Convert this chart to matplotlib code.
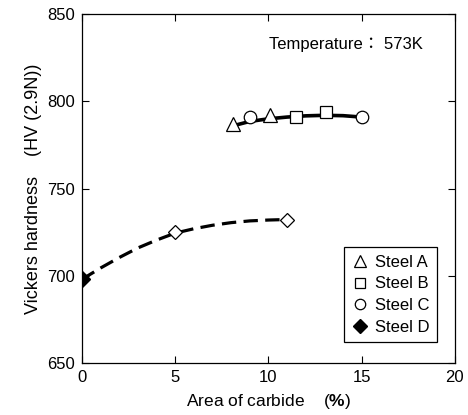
import matplotlib
matplotlib.use("Agg")
import matplotlib.pyplot as plt
from matplotlib.lines import Line2D

plt.rcParams['font.family'] = ['Liberation Sans', 'Noto Sans CJK JP', 'DejaVu Sans']
plt.rcParams['mathtext.fontset'] = 'custom'
plt.rcParams['mathtext.bf'] = 'Liberation Sans:bold'
plt.rcParams['mathtext.rm'] = 'Liberation Sans'

# measured points (area of carbide %, hardness HV)
steel_a_x = [8.1, 10.1]
steel_a_y = [787, 792]
steel_b_x = [11.5, 13.1]
steel_b_y = [791, 794]
steel_c_x = [9.0, 15.0]
steel_c_y = [791, 791]
steel_d_x = [0.0]
steel_d_y = [698]
steel_d_open_x = [5.0, 11.0]
steel_d_open_y = [725, 732]

# fitted curves
fit_abc_x = [8.1, 9, 10, 11, 12, 13, 14, 15]
fit_abc_y = [786, 788.5, 790, 791, 791.7, 792, 791.8, 791]
fit_d_x = [0, 1, 2, 3, 4, 5, 6, 7, 8, 9, 10, 11]
fit_d_y = [698, 704.5, 710.5, 716, 720.5, 724.5, 727, 729, 730.5, 731.5, 732, 732.3]

fig = plt.figure(figsize=(4.68, 4.15), dpi=100)
ax = fig.add_axes([0.175, 0.125, 0.797, 0.841])

ax.plot(fit_abc_x, fit_abc_y, color="black", linewidth=2.6, zorder=2)
ax.plot(fit_d_x, fit_d_y, color="black", linewidth=2.3, linestyle=(0, (4.5, 2.3)), zorder=2)

mk = dict(markerfacecolor="white", markeredgecolor="black", markeredgewidth=0.9,
          linestyle="none", zorder=3)
ax.plot(steel_a_x, steel_a_y, marker="^", markersize=10, **mk)
ax.plot(steel_b_x, steel_b_y, marker="s", markersize=9, **mk)
ax.plot(steel_c_x, steel_c_y, marker="o", markersize=9, **mk)
ax.plot(steel_d_open_x, steel_d_open_y, marker="D", markersize=7, **mk)
ax.plot(steel_d_x, steel_d_y, marker="D", markersize=8.5, color="black", linestyle="none", zorder=3)

ax.set_xlim(0, 20)
ax.set_ylim(650, 850)
ax.set_xticks([0, 5, 10, 15, 20])
ax.set_yticks([650, 700, 750, 800, 850])
ax.tick_params(direction="in", top=True, right=True, length=5, width=0.8, labelsize=12, pad=5)
for s in ax.spines.values():
    s.set_linewidth(0.9)

ax.set_xlabel(r"Area of carbide    ($\mathbf{\%}$)", fontsize=12.5, labelpad=5)
ax.set_ylabel("Vickers hardness    (HV (2.9N))", fontsize=13, labelpad=4)

ax.text(0.708, 0.914, "Temperature： 573K", transform=ax.transAxes, fontsize=12,
        ha="center", va="center")

handles = [
    Line2D([], [], marker="^", markersize=8.5, **mk),
    Line2D([], [], marker="s", markersize=7.5, **mk),
    Line2D([], [], marker="o", markersize=7.5, **mk),
    Line2D([], [], marker="D", markersize=7, color="black", linestyle="none"),
]
leg = ax.legend(handles, ["Steel A", "Steel B", "Steel C", "Steel D"],
                loc="lower right", bbox_to_anchor=(0.952, 0.06), fontsize=12,
                frameon=True, fancybox=False, edgecolor="black", framealpha=1,
                handlelength=1.0, handletextpad=0.4, labelspacing=0.4, borderpad=0.45,
                borderaxespad=0)
leg.get_frame().set_linewidth(0.9)

fig.savefig("out.png", dpi=100)
